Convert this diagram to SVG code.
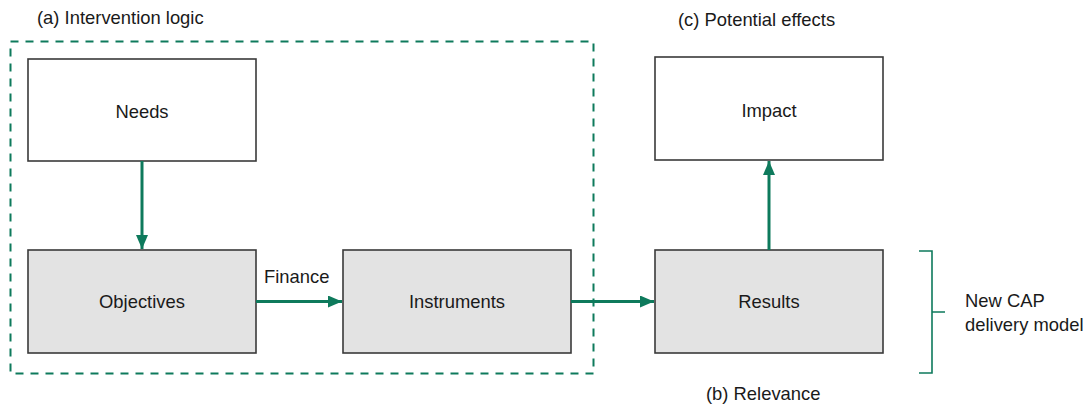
<svg xmlns="http://www.w3.org/2000/svg" width="1087" height="406" viewBox="0 0 1087 406">
<style>
.t{font-family:"Liberation Sans",Arial,sans-serif;font-size:18.4px;fill:#1a1a1a}
.c{text-anchor:middle}
.box{stroke:#3a3a3a;stroke-width:1.6}
.w{fill:#ffffff}
.g{fill:#e3e3e3}
.ln{stroke:#0e7a5c;stroke-width:3;fill:none}
</style>
<defs>
<marker id="ah" markerWidth="14" markerHeight="12" refX="14" refY="6" orient="auto" markerUnits="userSpaceOnUse">
<path d="M0,0 L14,6 L0,12 Z" fill="#0e7a5c"/>
</marker>
</defs>
<rect x="0" y="0" width="1087" height="406" fill="#ffffff"/>
<text class="t" x="37" y="24">(a) Intervention logic</text>
<text class="t" x="678" y="26">(c) Potential effects</text>
<text class="t" x="706" y="400">(b) Relevance</text>
<rect x="10.5" y="41.5" width="583" height="332" fill="none" stroke="#0e7a5c" stroke-width="2" stroke-dasharray="8,7"/>
<g id="needs"><rect class="box w" x="28" y="59" width="228" height="102"/><text class="t c" x="142" y="118">Needs</text></g>
<g id="objectives"><rect class="box g" x="28" y="250" width="228" height="103"/><text class="t c" x="142" y="308">Objectives</text></g>
<g id="instruments"><rect class="box g" x="343" y="250" width="228" height="103"/><text class="t c" x="457" y="308">Instruments</text></g>
<g id="results"><rect class="box g" x="655" y="250" width="228" height="103"/><text class="t c" x="769" y="308">Results</text></g>
<g id="impact"><rect class="box w" x="655" y="57" width="228" height="103"/><text class="t c" x="769" y="117">Impact</text></g>
<g id="connectors">
<line class="ln" x1="142" y1="161" x2="142" y2="249" marker-end="url(#ah)"/>
<line class="ln" x1="256" y1="301.5" x2="342" y2="301.5" marker-end="url(#ah)"/>
<text class="t" x="264" y="283">Finance</text>
<line class="ln" x1="571" y1="301.5" x2="654" y2="301.5" marker-end="url(#ah)"/>
<line class="ln" x1="769" y1="250" x2="769" y2="161" marker-end="url(#ah)"/>
</g>
<g id="bracket">
<path d="M919,251 H932 V373 H919 M932,312 H945" fill="none" stroke="#0e7a5c" stroke-width="1.6"/>
<text class="t" x="965" y="307">New CAP</text>
<text class="t" x="965" y="331">delivery model</text>
</g>
</svg>
